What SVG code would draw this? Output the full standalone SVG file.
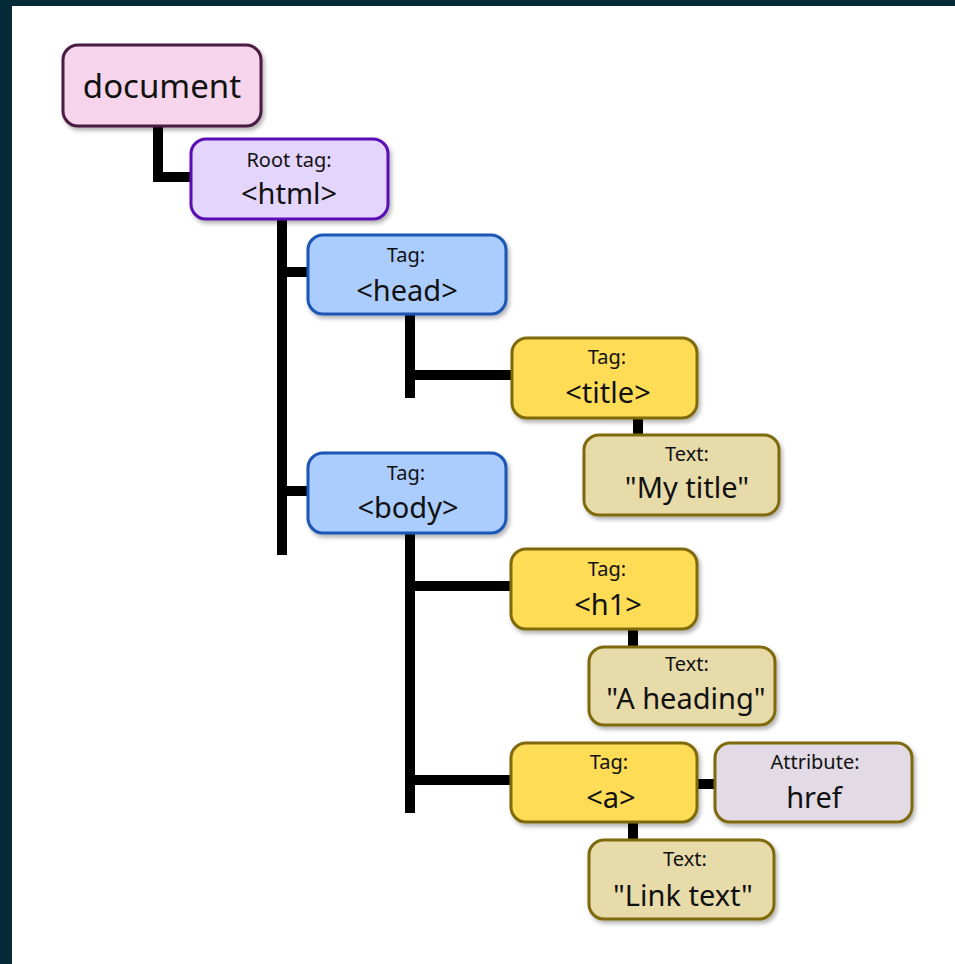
<svg xmlns="http://www.w3.org/2000/svg" width="955" height="964" viewBox="0 0 955 964">
<defs>
<filter id="sh" x="-10%" y="-10%" width="125%" height="135%">
<feDropShadow dx="2" dy="3" stdDeviation="2" flood-color="#000" flood-opacity="0.3"/>
</filter>
<style>
.box{stroke-width:3;filter:url(#sh)}
.doc{fill:#f6d5ec;stroke:#4b1a43}
.root{fill:#e4d5fd;stroke:#5a0fb4}
.blue{fill:#abcdfe;stroke:#1a56b5}
.tag{fill:#fedc56;stroke:#7e6a0b}
.txt{fill:#e8dbaa;stroke:#7e6a0b}
.attr{fill:#e2dae5;stroke:#7e6a0b}
text{font-family:"Noto Sans","Open Sans",sans-serif;fill:#111;text-anchor:middle}
.s{font-size:20px}
.b{font-size:29px}
.conn{fill:none;stroke:#000;stroke-width:10;stroke-linejoin:miter;stroke-linecap:butt}
</style>
</defs>
<rect x="0" y="0" width="955" height="964" fill="#042a38"/>
<rect x="12" y="6" width="943" height="958" fill="#fff"/>
<g id="connectors" class="conn">
<path d="M158,127 V177 H192"/>
<path d="M282,220 V555"/>
<path d="M282,272 H309"/>
<path d="M282,491 H309"/>
<path d="M410,315 V398"/>
<path d="M405,375 H513"/>
<path d="M410,533 V813"/>
<path d="M410,586 H512"/>
<path d="M410,780 H512"/>
<path d="M638,418 V436"/>
<path d="M633,629 V648"/>
<path d="M633,822 V841"/>
<path d="M697,784 H716"/>
</g>
<g id="document">
<rect class="box doc" x="63" y="45" width="198" height="81" rx="15"/>
<text x="162" y="98" style="font-size:33px">document</text>
</g>
<g id="html">
<rect class="box root" x="191" y="139" width="197" height="80" rx="15"/>
<text class="s" x="289" y="167">Root tag:</text>
<text class="b" x="289" y="204">&lt;html&gt;</text>
</g>
<g id="head">
<rect class="box blue" x="308" y="235" width="198" height="79" rx="15"/>
<text class="s" x="406" y="262">Tag:</text>
<text class="b" x="407" y="301">&lt;head&gt;</text>
</g>
<g id="body">
<rect class="box blue" x="308" y="453" width="198" height="80" rx="15"/>
<text class="s" x="406" y="480">Tag:</text>
<text class="b" x="408" y="518">&lt;body&gt;</text>
</g>
<g id="title">
<rect class="box tag" x="512" y="338" width="185" height="80" rx="15"/>
<text class="s" x="607" y="364">Tag:</text>
<text class="b" x="608" y="403">&lt;title&gt;</text>
</g>
<g id="title-text">
<rect class="box txt" x="584" y="435" width="195" height="80" rx="15"/>
<text class="s" x="687" y="461">Text:</text>
<text class="b" x="687" y="498">"My title"</text>
</g>
<g id="h1">
<rect class="box tag" x="511" y="549" width="186" height="80" rx="15"/>
<text class="s" x="607" y="576">Tag:</text>
<text class="b" x="608" y="615">&lt;h1&gt;</text>
</g>
<g id="h1-text">
<rect class="box txt" x="589" y="647" width="186" height="78" rx="15"/>
<text class="s" x="687" y="671">Text:</text>
<text class="b" x="686" y="709">"A heading"</text>
</g>
<g id="a">
<rect class="box tag" x="511" y="743" width="186" height="79" rx="15"/>
<text class="s" x="609" y="769">Tag:</text>
<text class="b" x="611" y="808">&lt;a&gt;</text>
</g>
<g id="href">
<rect class="box attr" x="715" y="743" width="197" height="79" rx="15"/>
<text class="s" x="815" y="769">Attribute:</text>
<text class="b" x="814" y="808">href</text>
</g>
<g id="a-text">
<rect class="box txt" x="589" y="840" width="185" height="79" rx="15"/>
<text class="s" x="685" y="866">Text:</text>
<text class="b" x="683" y="906">"Link text"</text>
</g>
</svg>
